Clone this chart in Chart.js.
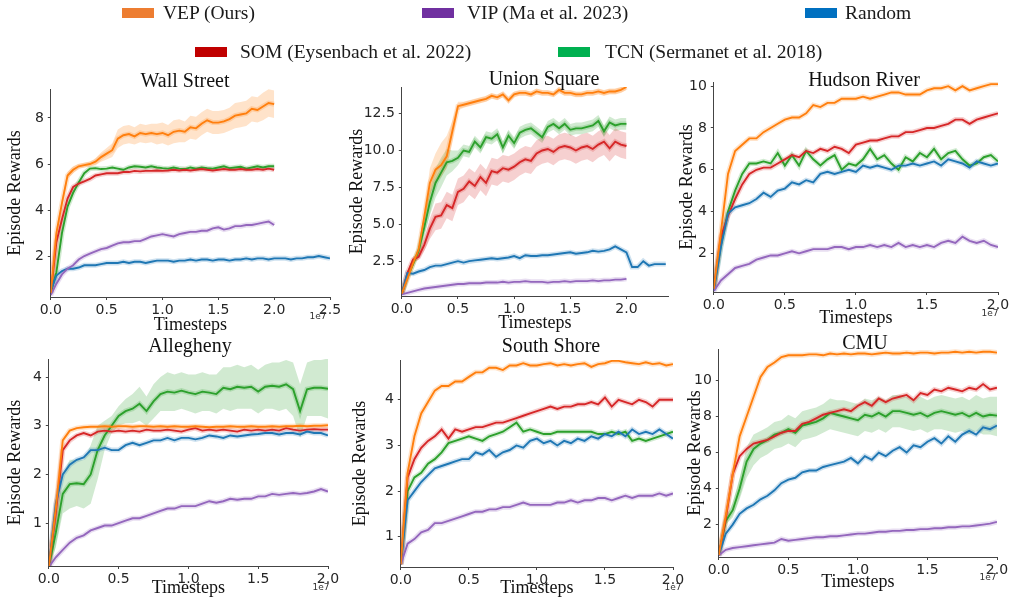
<!DOCTYPE html>
<html>
<head>
<meta charset="utf-8">
<script src="https://cdn.jsdelivr.net/npm/chart.js@4.4.0/dist/chart.umd.min.js"></script>
<style>
  body { margin: 0; width: 1009px; height: 599px; background: #fff; position: relative; overflow: hidden; font-family: 'Liberation Serif', 'Times New Roman', serif; }
  canvas { position: absolute; }
  .ptitle { position: absolute; font-size: 20px; line-height: 1; transform: translate(-50%, -50%); white-space: nowrap; color: #111; }
  .lgbox { position: absolute; width: 32px; height: 10px; }
  .lgtxt { position: absolute; font-size: 19.5px; line-height: 1; transform: translateY(-50%); white-space: nowrap; color: #1a1a1a; }
</style>
</head>
<body>

<script>
// ===== data (x in units of 1e7 timesteps) =====
const steps = [0, 0.05, 0.1, 0.15, 0.2, 0.25, 0.3, 0.35, 0.4, 0.45, 0.5, 0.55, 0.6, 0.65, 0.7, 0.75, 0.8, 0.85, 0.9, 0.95,
  1.0, 1.05, 1.1, 1.15, 1.2, 1.25, 1.3, 1.35, 1.4, 1.45, 1.5, 1.55, 1.6, 1.65, 1.7, 1.75, 1.8, 1.85, 1.9, 1.95,
  2.0, 2.05, 2.1, 2.15, 2.2, 2.25, 2.3, 2.35, 2.4, 2.45, 2.5];

const methods = ['VEP (Ours)', 'VIP (Ma et al. 2023)', 'Random', 'SOM (Eysenbach et al. 2022)', 'TCN (Sermanet et al. 2018)'];

// Wall Street
const wsVEP = [0.4,3.0,4.3,5.5,5.75,5.9,5.95,6.0,6.1,6.3,6.45,6.6,7.1,7.25,7.3,7.2,7.35,7.3,7.35,7.3,7.35,7.25,7.4,7.45,7.4,7.6,7.55,7.75,7.9,7.8,7.8,7.85,7.95,8.1,8.15,8.2,8.4,8.35,8.5,8.65,8.6];
const wsVEPlo = [0.35,2.8,4.1,5.35,5.6,5.8,5.85,5.9,5.95,6.1,6.2,6.3,6.7,6.85,6.9,6.85,6.95,6.9,6.95,6.85,6.9,6.8,6.9,6.95,6.95,7.1,7.05,7.25,7.4,7.3,7.3,7.35,7.45,7.55,7.6,7.65,7.85,7.8,7.9,8.05,8.0];
const wsVEPhi = [0.45,3.2,4.5,5.65,5.9,6.0,6.05,6.1,6.25,6.5,6.7,6.9,7.5,7.65,7.7,7.6,7.75,7.7,7.75,7.75,7.8,7.7,7.9,7.95,7.85,8.1,8.05,8.25,8.4,8.3,8.3,8.35,8.45,8.65,8.7,8.75,8.95,8.9,9.1,9.25,9.2];
const wsVIP = [0.3,0.8,1.2,1.45,1.6,1.85,2.0,2.1,2.2,2.3,2.35,2.45,2.55,2.6,2.6,2.65,2.65,2.75,2.85,2.9,2.95,2.9,2.85,2.95,3.0,3.05,3.05,3.1,3.1,3.2,3.25,3.15,3.2,3.3,3.3,3.35,3.35,3.4,3.45,3.5,3.35];
const wsRandom = [0.5,1.15,1.35,1.45,1.45,1.5,1.6,1.6,1.6,1.65,1.7,1.7,1.7,1.75,1.7,1.75,1.75,1.7,1.75,1.8,1.8,1.8,1.75,1.8,1.8,1.85,1.8,1.85,1.85,1.8,1.85,1.85,1.8,1.85,1.85,1.9,1.85,1.9,1.9,1.85,1.9,1.9,1.9,1.85,1.9,1.9,1.95,1.95,2.0,1.95,1.9];
const wsSOM = [0.4,2.6,3.6,4.5,5.0,5.15,5.25,5.35,5.5,5.55,5.6,5.6,5.6,5.65,5.65,5.7,5.68,5.7,5.7,5.72,5.7,5.72,5.75,5.72,5.75,5.72,5.75,5.78,5.75,5.72,5.75,5.78,5.75,5.75,5.78,5.75,5.75,5.78,5.75,5.8,5.75];
const wsTCN = [0.4,1.3,3.0,4.15,4.75,5.2,5.6,5.8,5.82,5.78,5.8,5.85,5.8,5.75,5.85,5.9,5.88,5.85,5.9,5.85,5.82,5.8,5.85,5.8,5.78,5.85,5.8,5.85,5.82,5.8,5.85,5.9,5.82,5.85,5.88,5.8,5.85,5.9,5.85,5.9,5.9];

// Union Square
const usVEP = [0.3,1.3,2.35,3.3,5.5,7.8,8.7,9.0,9.6,11.3,13.0,13.1,13.2,13.3,13.4,13.5,13.7,13.6,13.8,13.4,13.8,13.9,13.9,13.8,14.0,13.9,13.9,13.8,14.1,13.9,13.9,13.8,13.8,13.9,13.9,14.0,13.9,14.0,14.0,14.1,14.3];
const usVEPlo = [0.3,1.2,2.2,3.1,5.0,7.0,7.8,8.2,8.8,10.6,12.7,12.9,13.0,13.1,13.2,13.3,13.5,13.4,13.6,13.2,13.6,13.7,13.7,13.6,13.8,13.7,13.7,13.6,13.9,13.7,13.7,13.6,13.6,13.7,13.7,13.8,13.7,13.8,13.8,13.9,14.1];
const usVEPhi = [0.3,1.4,2.5,3.5,6.0,8.8,9.8,10.5,11.0,12.0,13.3,13.3,13.4,13.5,13.6,13.7,13.9,13.8,14.0,13.6,14.0,14.1,14.1,14.0,14.2,14.1,14.1,14.0,14.3,14.1,14.1,14.0,14.0,14.1,14.1,14.2,14.1,14.2,14.2,14.3,14.5];
const usVIP = [0.25,0.35,0.45,0.55,0.65,0.7,0.75,0.8,0.85,0.9,0.95,0.95,1.0,1.0,1.0,1.05,1.05,1.05,1.1,1.05,1.1,1.1,1.15,1.1,1.1,1.1,1.05,1.1,1.1,1.15,1.1,1.15,1.15,1.15,1.2,1.15,1.2,1.2,1.25,1.25,1.3];
const usRandom = [0.3,1.7,1.65,1.8,1.9,2.1,2.2,2.2,2.3,2.4,2.5,2.4,2.5,2.55,2.6,2.65,2.7,2.65,2.7,2.75,2.85,2.7,2.9,2.85,2.85,2.9,2.9,2.95,3.0,3.05,3.1,3.0,3.05,3.1,3.2,3.15,3.2,3.3,3.5,3.3,3.1,2.1,2.1,2.5,2.2,2.3,2.3,2.3];
const usSOM = [0.3,1.7,2.6,2.8,3.6,4.7,5.5,5.6,6.3,6.1,7.2,7.4,7.9,7.6,8.2,7.8,8.6,8.5,8.8,8.7,8.9,9.2,9.4,9.3,9.8,10.0,10.1,9.9,10.2,10.3,10.2,10.0,10.2,10.3,10.1,10.4,10.6,10.15,10.6,10.4,10.3];
const usSOMlo = [0.3,1.6,2.4,2.6,3.2,4.0,4.6,4.7,5.4,5.2,6.3,6.5,7.0,6.7,7.3,6.9,7.7,7.6,7.9,7.8,8.0,8.3,8.5,8.4,8.9,9.1,9.2,9.0,9.3,9.4,9.3,9.1,9.3,9.4,9.2,9.5,9.7,9.25,9.7,9.5,9.4];
const usSOMhi = [0.3,1.8,2.8,3.0,4.0,5.4,6.4,6.5,7.2,7.0,8.1,8.3,8.8,8.5,9.1,8.7,9.5,9.4,9.7,9.6,9.8,10.1,10.3,10.2,10.7,10.9,11.0,10.8,11.1,11.2,11.1,10.9,11.1,11.2,11.0,11.3,11.5,11.05,11.5,11.3,11.2];
const usTCN = [0.3,1.4,2.3,3.2,4.8,6.5,7.8,8.5,9.2,9.3,9.5,10.0,9.9,10.6,10.2,10.9,10.8,11.1,10.2,11.0,10.5,11.2,11.4,11.5,11.2,10.9,11.6,11.8,11.5,11.8,11.4,11.5,11.5,11.6,11.7,12.0,11.3,11.9,11.7,11.8,11.8];
const usTCNlo = [0.3,1.3,2.1,2.9,4.3,5.6,6.8,7.5,8.3,8.6,9.0,9.6,9.5,10.2,9.8,10.5,10.4,10.7,9.8,10.6,10.1,10.8,11.0,11.1,10.8,10.5,11.2,11.4,11.1,11.4,11.0,11.1,11.1,11.2,11.3,11.6,10.9,11.5,11.3,11.4,11.4];
const usTCNhi = [0.3,1.5,2.5,3.5,5.3,7.4,8.8,9.5,10.1,10.0,10.0,10.4,10.3,11.0,10.6,11.3,11.2,11.5,10.6,11.4,10.9,11.6,11.8,11.9,11.6,11.3,12.0,12.2,11.9,12.2,11.8,11.9,11.9,12.0,12.1,12.4,11.7,12.3,12.1,12.2,12.2];

// Hudson River
const hrVEP = [0.3,3.0,5.8,6.9,7.2,7.5,7.5,7.8,8.0,8.2,8.4,8.5,8.5,8.7,9.1,9.0,9.2,9.2,9.4,9.4,9.4,9.5,9.4,9.5,9.6,9.7,9.7,9.6,9.6,9.6,9.8,9.9,9.9,10.0,9.8,10.0,9.8,9.9,10.0,10.1,10.1];
const hrVIP = [0.2,0.7,1.0,1.3,1.4,1.5,1.7,1.8,1.9,1.9,2.0,2.1,2.0,2.1,2.2,2.2,2.2,2.3,2.3,2.2,2.3,2.3,2.4,2.3,2.4,2.3,2.5,2.3,2.4,2.3,2.4,2.3,2.5,2.6,2.5,2.8,2.6,2.5,2.6,2.4,2.3];
const hrRandom = [0.2,2.3,3.9,4.2,4.3,4.4,4.6,4.9,4.7,5.0,5.1,5.4,5.3,5.5,5.4,5.8,5.9,5.8,5.9,6.0,5.9,6.2,6.1,6.2,6.1,6.0,6.2,6.2,6.3,6.2,6.3,6.4,6.2,6.5,6.4,6.3,6.1,6.4,6.3,6.2,6.3];
const hrSOM = [0.3,2.8,3.8,4.6,5.3,5.8,6.0,6.1,6.1,6.3,6.5,6.7,6.6,6.9,6.8,7.0,6.9,7.1,7.0,6.8,7.2,7.3,7.4,7.4,7.5,7.6,7.6,7.8,7.8,7.9,8.0,8.0,8.1,8.2,8.4,8.4,8.2,8.4,8.5,8.6,8.7];
const hrTCN = [0.3,2.4,4.0,5.0,5.8,6.3,6.3,6.4,6.3,6.8,6.2,6.7,6.2,6.9,6.5,6.2,6.5,6.7,6.0,6.3,6.2,6.5,7.0,6.5,6.7,6.3,6.0,6.6,6.4,6.8,6.6,7.0,6.5,6.8,6.9,6.5,6.2,6.3,6.6,6.7,6.4];

// Allegheny
const alVEP = [0.1,1.3,2.7,2.9,2.95,2.97,2.98,2.98,2.99,2.98,2.99,2.99,2.98,2.99,2.99,2.98,2.99,2.98,2.99,2.98,2.98,2.99,2.98,2.97,2.98,2.98,2.99,2.98,2.98,2.99,2.98,2.98,2.99,2.98,2.99,2.99,3.0,2.99,3.0,3.0,3.01];
const alVIP = [0.1,0.3,0.45,0.6,0.7,0.75,0.85,0.9,0.95,0.95,1.0,1.05,1.1,1.1,1.15,1.2,1.25,1.3,1.3,1.35,1.35,1.35,1.4,1.45,1.42,1.45,1.5,1.48,1.5,1.5,1.55,1.55,1.6,1.58,1.6,1.62,1.6,1.62,1.65,1.7,1.65];
const alRandom = [0.1,1.4,2.0,2.2,2.3,2.35,2.5,2.5,2.55,2.5,2.5,2.6,2.65,2.6,2.65,2.7,2.7,2.75,2.7,2.75,2.75,2.72,2.75,2.8,2.78,2.75,2.8,2.78,2.8,2.82,2.83,2.85,2.85,2.82,2.85,2.85,2.82,2.88,2.85,2.85,2.8];
const alSOM = [0.1,1.2,2.5,2.7,2.8,2.85,2.8,2.88,2.9,2.88,2.9,2.88,2.9,2.88,2.92,2.9,2.9,2.92,2.9,2.88,2.92,2.95,2.9,2.92,2.9,2.92,2.9,2.88,2.92,2.9,2.92,2.9,2.92,2.9,2.95,2.92,2.9,2.92,2.93,2.92,2.92];
const alTCN = [0.1,0.8,1.6,1.8,1.82,1.8,2.0,2.5,2.8,3.0,3.2,3.3,3.35,3.45,3.3,3.5,3.65,3.7,3.68,3.72,3.68,3.65,3.7,3.68,3.65,3.78,3.75,3.8,3.78,3.8,3.7,3.8,3.82,3.8,3.85,3.75,3.3,3.75,3.78,3.78,3.76];
const alTCNlo = [0.1,0.5,1.2,1.3,1.35,1.3,1.4,1.9,2.5,2.85,3.0,3.05,3.05,3.1,3.0,3.15,3.3,3.3,3.3,3.35,3.3,3.25,3.3,3.3,3.25,3.35,3.3,3.35,3.35,3.35,3.25,3.35,3.35,3.3,3.35,3.2,2.75,3.2,3.2,3.2,3.15];
const alTCNhi = [0.1,1.1,2.0,2.3,2.3,2.3,2.6,3.0,3.1,3.2,3.4,3.55,3.65,3.8,3.6,3.85,4.0,4.1,4.05,4.1,4.05,4.05,4.1,4.05,4.05,4.2,4.2,4.25,4.2,4.25,4.15,4.25,4.3,4.3,4.35,4.3,3.85,4.3,4.35,4.35,4.38];

// South Shore
const ssVEP = [0.4,2.4,3.2,3.7,3.95,4.2,4.3,4.3,4.4,4.4,4.5,4.6,4.6,4.7,4.7,4.65,4.75,4.75,4.8,4.75,4.75,4.78,4.8,4.75,4.78,4.75,4.78,4.8,4.72,4.78,4.8,4.85,4.85,4.82,4.8,4.78,4.82,4.78,4.8,4.75,4.78];
const ssVIP = [0.4,0.85,0.95,1.1,1.15,1.3,1.3,1.35,1.4,1.45,1.5,1.55,1.55,1.6,1.6,1.65,1.65,1.7,1.75,1.7,1.7,1.7,1.7,1.75,1.75,1.8,1.75,1.8,1.8,1.85,1.85,1.8,1.85,1.9,1.85,1.9,1.9,1.9,1.95,1.9,1.95];
const ssRandom = [0.4,1.8,2.0,2.2,2.35,2.5,2.55,2.6,2.65,2.7,2.7,2.85,2.8,2.9,2.75,2.85,2.9,3.0,2.95,3.1,3.15,3.05,3.1,3.0,3.1,3.05,3.15,3.1,3.2,3.15,3.25,3.2,3.3,3.2,3.35,3.25,3.3,3.25,3.35,3.25,3.15];
const ssSOM = [0.4,2.3,2.7,2.95,3.1,3.2,3.35,3.15,3.35,3.3,3.35,3.4,3.4,3.45,3.5,3.5,3.55,3.6,3.65,3.7,3.75,3.8,3.85,3.8,3.85,3.85,3.9,3.9,3.95,3.9,4.05,3.85,4.0,3.95,3.9,4.0,3.95,3.85,4.0,4.0,4.0];
const ssTCN = [0.4,2.0,2.3,2.4,2.6,2.7,2.85,3.05,3.1,3.15,3.2,3.15,3.1,3.2,3.25,3.3,3.4,3.5,3.3,3.35,3.3,3.25,3.25,3.3,3.3,3.3,3.3,3.3,3.3,3.25,3.25,3.3,3.25,3.3,3.1,3.15,3.1,3.15,3.2,3.25,3.3];

// CMU
const cmVEP = [0.3,2.5,4.8,6.9,8.0,9.1,10.2,10.75,11.0,11.3,11.4,11.4,11.4,11.45,11.45,11.4,11.5,11.45,11.5,11.45,11.5,11.5,11.45,11.5,11.55,11.5,11.5,11.55,11.5,11.55,11.55,11.5,11.55,11.55,11.6,11.55,11.6,11.55,11.6,11.6,11.55];
const cmVIP = [0.3,0.6,0.7,0.75,0.8,0.85,0.9,0.95,1.0,1.2,1.1,1.15,1.2,1.25,1.3,1.3,1.35,1.35,1.4,1.45,1.5,1.5,1.55,1.6,1.6,1.65,1.65,1.7,1.7,1.75,1.75,1.8,1.8,1.85,1.85,1.9,1.9,1.95,2.0,2.05,2.15];
const cmRandom = [0.3,1.5,2.0,2.6,2.9,3.1,3.4,3.6,3.9,4.3,4.5,4.6,4.9,5.0,5.0,5.2,5.3,5.4,5.5,5.7,5.4,5.8,5.6,6.0,5.8,6.1,6.3,6.0,6.4,6.3,6.6,6.8,6.5,6.9,6.6,7.0,7.2,7.0,7.4,7.3,7.5];
const cmSOM = [0.3,2.3,4.8,5.8,6.2,6.5,6.6,6.7,6.9,7.1,7.2,7.2,7.6,7.7,7.9,8.1,8.2,8.3,8.4,8.3,8.6,8.8,8.6,9.0,8.8,9.0,9.1,9.2,8.9,9.3,9.2,9.5,9.4,9.6,9.5,9.4,9.6,9.5,9.8,9.5,9.6];
const cmTCN = [0.3,2.2,2.8,4.0,5.5,6.2,6.5,6.7,7.0,7.1,7.3,7.1,7.5,7.6,7.7,7.9,8.2,8.1,8.0,7.9,7.8,8.1,8.0,8.2,8.0,8.3,8.3,8.2,8.1,8.2,8.0,8.2,8.3,8.2,8.1,8.2,8.0,8.2,8.0,8.1,8.05];
const cmTCNlo = [0.3,2.0,2.4,3.4,4.6,5.3,5.7,5.9,6.2,6.3,6.5,6.3,6.7,6.8,6.9,7.1,7.3,7.2,7.1,7.0,6.9,7.2,7.1,7.3,7.1,7.4,7.4,7.3,7.2,7.3,7.1,7.3,7.3,7.2,7.1,7.2,7.0,7.2,7.0,7.0,6.9];
const cmTCNhi = [0.3,2.4,3.2,4.6,6.3,7.0,7.2,7.4,7.7,7.8,8.1,7.9,8.3,8.4,8.5,8.7,9.0,8.9,8.9,8.8,8.7,9.0,8.9,9.1,8.9,9.2,9.2,9.1,9.0,9.1,8.9,9.1,9.2,9.1,9.0,9.1,8.9,9.2,9.0,9.1,9.1];

// ===== styling =====
const lineColors = ['#ff7f0e', '#9467bd', '#1f77b4', '#d62728', '#2ca02c'];
const legendColors = ['#ED7D31', '#7030A0', '#0070C0', '#C00000', '#00B050'];

function rgba(hex, a) {
    const n = parseInt(hex.slice(1), 16);
    return `rgba(${(n >> 16) & 255}, ${(n >> 8) & 255}, ${n & 255}, ${a})`;
}

function pts(ys) {
    return ys.map((y, i) => ({ x: steps[i], y: y }));
}

// small "1e7" offset label under the x axis
const offsetLabel = {
    id: 'offsetLabel',
    afterDraw(chart, args, opts) {
        if (!opts || !opts.show) return;
        const { ctx, chartArea } = chart;
        ctx.save();
        ctx.font = '9px "DejaVu Sans"';
        ctx.fillStyle = '#333';
        ctx.textAlign = 'center';
        ctx.textBaseline = 'middle';
        ctx.fillText('1e7', chartArea.right + opts.dx, chartArea.bottom + opts.dy);
        ctx.restore();
    }
};

// panel geometry: plot area box, y-title centre x, x-title centre y
const panels = [
    { title: 'Wall Street',  tx: 185, ty: 80,  L: 51,  T: 89,  R: 330, B: 297, yt: 15,  xt: 325, xmax: 2.5,  ymin: 0.22, ymax: 9.26,  ystep: 2,   yfix: 0, e7: { show: true, dx: -12, dy: 20 },
      series: [[wsVEP, wsVEPlo, wsVEPhi], [wsVIP], [wsRandom], [wsSOM], [wsTCN]] },
    { title: 'Union Square', tx: 544, ty: 78,  L: 402, T: 87,  R: 668, B: 296, yt: 357, xt: 323, xmax: 2.37, ymin: 0.14, ymax: 14.3,  ystep: 2.5, yfix: 1, e7: { show: false },
      series: [[usVEP, usVEPlo, usVEPhi], [usVIP], [usRandom], [usSOM, usSOMlo, usSOMhi], [usTCN, usTCNlo, usTCNhi]] },
    { title: 'Hudson River', tx: 864, ty: 79,  L: 714, T: 82,  R: 998, B: 292, yt: 687, xt: 318, xmax: 2.0,  ymin: 0.15, ymax: 10.2,  ystep: 2,   yfix: 0, e7: { show: true, dx: -8, dy: 22 },
      series: [[hrVEP], [hrVIP], [hrRandom], [hrSOM], [hrTCN]] },
    { title: 'Allegheny',    tx: 190, ty: 345, L: 49,  T: 359, R: 328, B: 566, yt: 15,  xt: 588, xmax: 2.0,  ymin: 0.12, ymax: 4.37,  ystep: 1,   yfix: 0, e7: { show: true, dx: -7, dy: 22 },
      series: [[alVEP], [alVIP], [alRandom], [alSOM], [alTCN, alTCNlo, alTCNhi]] },
    { title: 'South Shore',  tx: 551, ty: 345, L: 401, T: 360, R: 673, B: 567, yt: 360, xt: 588, xmax: 2.0,  ymin: 0.34, ymax: 4.87,  ystep: 1,   yfix: 0, e7: { show: true, dx: 0, dy: 21 },
      series: [[ssVEP], [ssVIP], [ssRandom], [ssSOM], [ssTCN]] },
    { title: 'CMU',          tx: 865, ty: 342, L: 719, T: 349, R: 997, B: 557, yt: 695, xt: 582, xmax: 2.0,  ymin: 0.2,  ymax: 11.75, ystep: 2,   yfix: 0, e7: { show: true, dx: -9, dy: 21 },
      series: [[cmVEP], [cmVIP], [cmRandom], [cmSOM], [cmTCN, cmTCNlo, cmTCNhi]] }
];

const tickFont = { family: 'DejaVu Sans', size: 14 };
const labelFont = { family: 'Liberation Serif', size: 18 };

function buildPanel(p, idx) {
    const padTop = 14, padRight = 16, half = labelFont.size * 1.2 / 2;
    const left = p.yt - half;
    const top = p.T - padTop;
    const width = Math.round(p.R + padRight - left);
    const height = Math.round(p.xt + half - top);
    const yw = p.L - left;
    const xh = top + height - p.B;

    const canvas = document.createElement('canvas');
    canvas.id = 'panel' + idx;
    canvas.width = width;
    canvas.height = height;
    canvas.style.left = left + 'px';
    canvas.style.top = top + 'px';
    canvas.style.width = width + 'px';
    canvas.style.height = height + 'px';
    document.body.appendChild(canvas);

    const datasets = [];
    // mean lines first -> drawn on top
    p.series.forEach((s, k) => {
        datasets.push({ label: methods[k], data: pts(s[0]), borderColor: lineColors[k], borderWidth: 1.9,
            pointRadius: 0, fill: false, tension: 0, order: 0 });
    });
    // thin shaded halo under every line
    p.series.forEach((s, k) => {
        datasets.push({ label: methods[k] + ' std', data: pts(s[0]), borderColor: rgba(lineColors[k], 0.22), borderWidth: 5,
            pointRadius: 0, fill: false, tension: 0, order: 1 });
    });
    // wider bands where the figure shows them
    p.series.forEach((s, k) => {
        if (s.length < 3) return;
        datasets.push({ label: methods[k] + ' lo', data: pts(s[1]), borderWidth: 0, borderColor: 'rgba(0,0,0,0)',
            pointRadius: 0, fill: false, tension: 0, order: 2 });
        datasets.push({ label: methods[k] + ' hi', data: pts(s[2]), borderWidth: 0, borderColor: 'rgba(0,0,0,0)',
            backgroundColor: rgba(lineColors[k], 0.22), pointRadius: 0, fill: '-1', tension: 0, order: 2 });
    });

    new Chart(canvas, {
        type: 'line',
        data: { datasets: datasets },
        plugins: [offsetLabel],
        options: {
            responsive: false,
            animation: false,
            events: [],
            layout: { padding: { top: padTop, right: padRight, left: 0, bottom: 0 } },
            plugins: { legend: { display: false }, tooltip: { enabled: false }, offsetLabel: p.e7 },
            scales: {
                x: {
                    type: 'linear', min: 0, max: p.xmax,
                    border: { display: true, color: '#444', width: 1 },
                    grid: { display: true, drawOnChartArea: false, drawTicks: true, tickLength: 3, color: '#444' },
                    ticks: { stepSize: 0.5, includeBounds: false, padding: 2, maxRotation: 0, autoSkip: false,
                        color: '#262626', font: tickFont, callback: v => v.toFixed(1) },
                    title: { display: true, text: 'Timesteps', font: labelFont, color: '#111', padding: 0 },
                    afterFit: sc => { sc.height = xh; }
                },
                y: {
                    min: p.ymin, max: p.ymax,
                    border: { display: true, color: '#444', width: 1 },
                    grid: { display: true, drawOnChartArea: false, drawTicks: true, tickLength: 3, color: '#444' },
                    ticks: { stepSize: p.ystep, includeBounds: false, padding: 4, color: '#262626', font: tickFont,
                        callback: v => p.yfix ? v.toFixed(1) : String(v) },
                    title: { display: true, text: 'Episode Rewards', font: labelFont, color: '#111', padding: 0 },
                    afterFit: sc => { sc.width = yw; }
                }
            }
        }
    });

    const t = document.createElement('div');
    t.className = 'ptitle';
    t.textContent = p.title;
    t.style.left = p.tx + 'px';
    t.style.top = p.ty + 'px';
    document.body.appendChild(t);
}

panels.forEach(buildPanel);

// figure legend (two rows on top)
const legendPos = [
    { box: [122, 8],  text: [163, 13] },
    { box: [422, 8],  text: [467, 13] },
    { box: [805, 8],  text: [845, 13] },
    { box: [195, 47], text: [240, 52] },
    { box: [558, 47], text: [605, 52] }
];
legendPos.forEach((lp, k) => {
    const b = document.createElement('div');
    b.className = 'lgbox';
    b.style.left = lp.box[0] + 'px';
    b.style.top = lp.box[1] + 'px';
    b.style.background = legendColors[k];
    document.body.appendChild(b);
    const s = document.createElement('div');
    s.className = 'lgtxt';
    s.textContent = k === 2 ? 'Random' : methods[k];
    s.style.left = lp.text[0] + 'px';
    s.style.top = lp.text[1] + 'px';
    document.body.appendChild(s);
});
</script>
</body>
</html>
